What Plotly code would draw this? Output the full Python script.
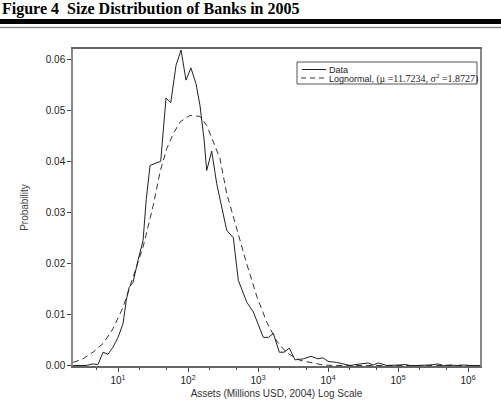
import plotly.graph_objects as go

# Empirical distribution (Data)
data_x = [2.28, 3.49, 4.29, 5.18, 6.11, 7.20, 8.48, 10, 11.8, 13.1, 14.4, 16.4, 19.3, 22.8, 25.3,
          28.7, 40.7, 48.5, 56.7, 67.4, 79.4, 93.6, 110, 130, 148, 169, 185, 218, 257,
          357, 444, 523, 690, 857, 1191, 1403, 1655, 2015, 2351, 2800, 3379, 4437, 5715,
          7197, 8483, 10000, 13310, 17500, 20600, 28650, 37670, 44370, 52320, 69000, 85700,
          106800, 125900, 148400, 184900, 229800, 286500, 376700, 443600, 553000, 690000,
          857000, 1068000, 1483000]
data_y = [0.0, 0.0, 0.0003, 0.0002, 0.0026, 0.0022, 0.0036, 0.0055, 0.0082, 0.0127, 0.0153,
          0.0163, 0.0206, 0.0245, 0.0325,
          0.0392, 0.0400, 0.0524, 0.0515, 0.0588, 0.0618, 0.0559, 0.0583, 0.0552, 0.0510,
          0.0444, 0.0382, 0.0420, 0.0356,
          0.0265, 0.0250, 0.0167, 0.0124, 0.0105, 0.0055, 0.0055, 0.0063, 0.0026, 0.0026,
          0.0034, 0.0011, 0.0013, 0.0018,
          0.0013, 0.0015, 0.0008, 0.0006, 0.0003, 0.0, 0.0003, 0.0005, 0.0001, 0.0005, 0.0,
          0.0, 0.0001, 0.0002, 0.0, 0.0, 0.0, 0.0001, 0.0003, 0.0, 0.0001, 0.0, 0.0001, 0.0, 0.0]

# Fitted lognormal
logn_x = [2.28, 3.16, 4.39, 6.11, 8.48, 11.8, 16.4, 22.8, 31.9, 39.8, 49.7, 61.7, 76.9, 106.9,
          148, 185, 230, 286.5, 357, 497, 690, 958, 1331, 1849, 2567, 3981, 6105, 8483,
          11790, 1483000]
logn_y = [0.0006, 0.0013, 0.0026, 0.0043, 0.0072, 0.0114, 0.0173, 0.0232, 0.0314, 0.0379,
          0.0425, 0.0454, 0.0477, 0.0490, 0.0488, 0.0470, 0.0438, 0.0405, 0.0337, 0.0265,
          0.0199, 0.0136, 0.0085, 0.0048, 0.0025, 0.0010, 0.0005, 0.0001, 0.0, 0.0]

x_tickvals = [10, 100, 1000, 10000, 100000, 1000000]
x_ticktext = ["10<sup>1</sup>", "10<sup>2</sup>", "10<sup>3</sup>", "10<sup>4</sup>",
              "10<sup>5</sup>", "10<sup>6</sup>"]
y_tickvals = [0.0, 0.01, 0.02, 0.03, 0.04, 0.05, 0.06]
y_ticktext = ["0.00", "0.01", "0.02", "0.03", "0.04", "0.05", "0.06"]

fig = go.Figure()
fig.add_trace(go.Scatter(x=logn_x, y=logn_y, mode="lines", name="Lognormal",
                         line=dict(color="#333333", width=1, dash="6px,4px"),
                         showlegend=False))
fig.add_trace(go.Scatter(x=data_x, y=data_y, mode="lines", name="Data",
                         line=dict(color="#222222", width=1), showlegend=False))

W, H = 501, 417
L, R, T, B = 73, 21, 49, 51
pw, ph = W - L - R, H - T - B

def px(x):
    return (x - L) / pw

def py(y):
    return (H - B - y) / ph

shapes = [
    # thick black rule and thin gray rule under the figure title
    dict(type="rect", xref="paper", yref="paper", x0=px(-5), x1=px(W + 5), y0=py(24), y1=py(19),
         fillcolor="black", line=dict(width=0), layer="above"),
    dict(type="line", xref="paper", yref="paper", x0=px(-5), x1=px(W + 5), y0=py(27.5), y1=py(27.5),
         line=dict(color="#8a8a8a", width=1.5)),
    # legend box
    dict(type="rect", xref="paper", yref="paper", x0=px(297), x1=px(477), y0=py(84), y1=py(62),
         line=dict(color="#555555", width=1), fillcolor="white", layer="above"),
    dict(type="line", xref="paper", yref="paper", x0=px(302), x1=px(326), y0=py(69.5), y1=py(69.5),
         line=dict(color="#222222", width=1), layer="above"),
    dict(type="line", xref="paper", yref="paper", x0=px(301), x1=px(327), y0=py(78), y1=py(78),
         line=dict(color="#333333", width=1, dash="5px,4px"), layer="above"),
]

annotations = [
    dict(text="<b>Figure 4\u00a0\u00a0Size Distribution of Banks in 2005</b>", xref="paper", yref="paper",
         x=px(0), y=py(-2), xanchor="left", yanchor="top", showarrow=False,
         font=dict(family="Liberation Serif", size=16, color="black")),
    dict(text="Data", xref="paper", yref="paper", x=px(327), y=py(69.5), xanchor="left",
         yanchor="middle", showarrow=False,
         font=dict(family="Liberation Sans", size=9, color="#222222")),
    dict(text="Lognormal, <span style=\"font-family:'Liberation Serif',serif;font-size:10px\">(\u03bc =11.7234, \u03c3<sup>2</sup> =1.8727)</span>",
         xref="paper", yref="paper", x=px(327), y=py(78), xanchor="left",
         yanchor="middle", showarrow=False,
         font=dict(family="Liberation Sans", size=9, color="#222222")),
]

fig.update_layout(
    width=W, height=H,
    margin=dict(l=L, r=R, t=T, b=B),
    paper_bgcolor="white", plot_bgcolor="white",
    font=dict(family="Liberation Sans", size=9, color="#222222"),
    shapes=shapes, annotations=annotations,
    showlegend=False,
)
fig.update_xaxes(
    type="log", range=[0.357, 6.171],
    tickmode="array", tickvals=x_tickvals, ticktext=x_ticktext,
    ticks="outside", ticklen=4, tickcolor="#444444",
    minor=dict(ticks="outside", ticklen=2, tickcolor="#444444", showgrid=False),
    showgrid=False, zeroline=False,
    showline=True, linecolor="#666666", linewidth=1.5, mirror=True,
    title=dict(text="Assets (Millions USD, 2004) Log Scale", standoff=5,
               font=dict(size=10, color="#333333")),
    tickfont=dict(size=10, color="#222222"),
)
fig.update_yaxes(
    range=[-0.0001, 0.062],
    tickmode="array", tickvals=y_tickvals, ticktext=y_ticktext,
    ticks="outside", ticklen=4, tickcolor="#444444",
    showgrid=False, zeroline=False,
    showline=True, linecolor="#888888", linewidth=1.5, mirror=True,
    title=dict(text="Probability", standoff=15, font=dict(size=10, color="#444444")),
    tickfont=dict(size=10, color="#222222"),
)

fig.write_html("out.html")
